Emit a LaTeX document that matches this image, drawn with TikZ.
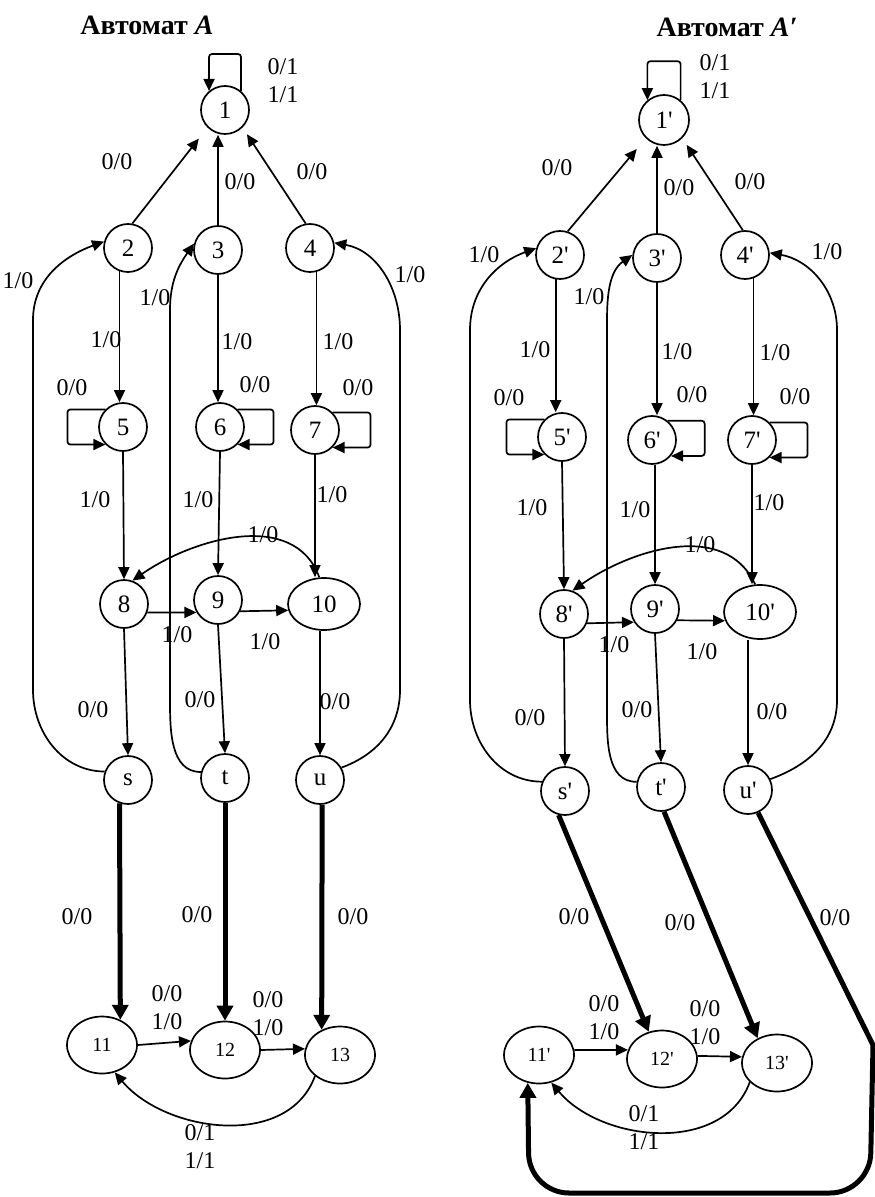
\documentclass[tikz,border=0pt]{standalone}
\usepackage{fontspec}
\setmainfont{Liberation Serif}
\usetikzlibrary{arrows.meta,shapes.geometric}
\newcommand{\prm}{\textquotesingle}

\begin{document}
\begin{tikzpicture}[x=0.5pt,y=0.5pt,
  state/.style={circle,draw,line width=0.85pt,minimum size=24pt,inner sep=0pt,font=\fontsize{12.5}{14}\selectfont},
  oval/.style={ellipse,draw,line width=0.85pt,minimum width=35pt,minimum height=28.5pt,inner sep=0pt,font=\fontsize{10}{11}\selectfont},
  lbl/.style={align=center,inner sep=0pt,font=\fontsize{12}{14}\selectfont},
  ttl/.style={inner sep=0pt,font=\fontsize{14}{16}\selectfont\bfseries},
  arr/.style={line width=0.85pt,-{Triangle[length=6pt,width=5.5pt]}},
  thickarr/.style={line width=2.5pt,-{Triangle[length=7.5pt,width=8pt]}},
  loopy/.style={arr,rounded corners=1.5pt}]
\useasboundingbox (0,0) rectangle (874,-1197);

\node[ttl] (tA) at (147,-25) {Автомат \textit{A}};
\node[state] (1) at (225,-110) {1};
\node[state] (2) at (128,-248) {2};
\node[state] (3) at (218,-250) {3};
\node[state] (4) at (310,-248) {4};
\node[state] (5) at (123,-427) {5};
\node[state] (6) at (220,-427) {6};
\node[state] (7) at (315,-430) {7};
\node[state] (8) at (124,-604) {8};
\node[state] (9) at (218,-600) {9};
\node[oval,minimum width=36pt,minimum height=26pt,font=\fontsize{12.5}{14}\selectfont] (10) at (324,-604) {10};
\node[state] (s) at (128,-780) {s};
\node[state] (t) at (225,-778) {t};
\node[state] (u) at (320,-780) {u};
\node[oval] (11) at (102,-1045) {11};
\node[oval] (12) at (225,-1050) {12};
\node[oval] (13) at (340,-1055) {13};

\draw[loopy] (1.50) -- ++(0,37) -| (1.130);
\draw[arr,shorten >=7pt] (2.80) -- (1.-135);
\draw[arr] (3.north) -- (3.north |- 1.south);
\draw[arr,shorten >=4pt] (4.100) -- (1.-45);
\draw[arr] (s.160) to[out=180,in=-90] (33,-690) -- (33,-320) to[out=90,in=200] (2.165);
\draw[arr] (t.166) to[out=180,in=-90] (170,-700) -- (170,-310) to[out=90,in=235] (3.165);
\draw[arr] (u.30) to[out=20,in=-90] (400,-690) -- (400,-330) to[out=90,in=-10] (4.12);
\draw[arr] (2.-110) -- (2.-110 |- 5.north);
\draw[arr] (3.south) -- (3.south |- 6.north);
\draw[arr] (4.-75) -- (4.-75 |- 7.north);
\draw[loopy] (5.135) -- ++(-38,0) |- (5.-135);
\draw[loopy] (6.45) -- ++(36,0) |- (6.-45);
\draw[loopy] (7.45) -- ++(38,0) |- (7.-45);
\draw[arr] (5.south) -- (8.north);
\draw[arr] (6.south) -- (9.north);
\draw[arr] (7.south) -- (7.south |- 10.north);
\draw[arr] (10.100) to[out=110,in=35] (8.70);
\draw[arr] (8.-20) -- (9.-150);
\draw[arr] (9.-27) -- (10.-170);
\draw[arr] (8.south) -- (s.north);
\draw[arr] (9.south) -- (t.north);
\draw[arr] (u.north |- 10.south) -- (u.north);
\draw[thickarr] (s.-110) -- (11.54);
\draw[thickarr] (t.south) -- (12.north);
\draw[thickarr] (u.-85) -- (13.126);
\draw[arr] (11.east) -- (12.165);
\draw[arr] (12.east) -- (13.170);
\draw[arr] (13.-140) to[out=-110,in=-50] (11.-65);

\node[lbl] (a11) at (283,-81) {0/1\\1/1};
\node[lbl] (a21) at (117,-162) {0/0};
\node[lbl] (a31) at (240,-182) {0/0};
\node[lbl] (a41) at (312,-172) {0/0};
\node[lbl] (as2) at (18,-281) {1/0};
\node[lbl] (at3) at (155,-298) {1/0};
\node[lbl] (au4) at (410,-275) {1/0};
\node[lbl] (a25) at (106,-340) {1/0};
\node[lbl] (a36) at (237,-342) {1/0};
\node[lbl] (a47) at (338,-342) {1/0};
\node[lbl] (a55) at (72,-388) {0/0};
\node[lbl] (a66) at (255,-385) {0/0};
\node[lbl] (a77) at (358,-388) {0/0};
\node[lbl] (a58) at (95,-500) {1/0};
\node[lbl] (a69) at (198,-500) {1/0};
\node[lbl] (a710) at (332,-495) {1/0};
\node[lbl] (a108) at (263,-535) {1/0};
\node[lbl] (a89) at (177,-635) {1/0};
\node[lbl] (a910) at (265,-642) {1/0};
\node[lbl] (a8s) at (93,-710) {0/0};
\node[lbl] (a9t) at (200,-700) {0/0};
\node[lbl] (a10u) at (335,-702) {0/0};
\node[lbl] (as11) at (77,-917) {0/0};
\node[lbl] (at12) at (197,-915) {0/0};
\node[lbl] (au13) at (353,-917) {0/0};
\node[lbl] (a1112) at (167,-1008) {0/0\\1/0};
\node[lbl] (a1213) at (268,-1014) {0/0\\1/0};
\node[lbl] (a1311) at (200,-1147) {0/1\\1/1};

\begin{scope}[xshift=218.5pt]
\node[ttl] (tB) at (290,-27) {Автомат \textit{A′}};
\node[state,minimum size=25pt] (1p) at (227,-120) {1\prm};
\node[state] (2p) at (123,-255) {2\prm};
\node[state] (3p) at (220,-258) {3\prm};
\node[state] (4p) at (308,-255) {4\prm};
\node[state] (5p) at (125,-437) {5\prm};
\node[state] (6p) at (215,-440) {6\prm};
\node[state] (7p) at (315,-440) {7\prm};
\node[state] (8p) at (127,-614) {8\prm};
\node[state] (9p) at (218,-609) {9\prm};
\node[oval,minimum width=36pt,minimum height=27pt,font=\fontsize{12.5}{14}\selectfont] (10p) at (323,-612) {10\prm};
\node[state] (sp) at (128,-791) {s\prm};
\node[state] (tp) at (224,-787) {t\prm};
\node[state] (up) at (311,-790) {u\prm};
\node[oval] (11p) at (102,-1055) {11\prm};
\node[oval] (12p) at (225,-1059) {12\prm};
\node[oval] (13p) at (340,-1063) {13\prm};

\draw[loopy] (1p.50) -- ++(0,39) -| (1p.130);
\draw[arr,shorten >=7pt] (2p.72) -- (1p.-135);
\draw[arr] (3p.north) -- (3p.north |- 1p.south);
\draw[arr,shorten >=4pt] (4p.95) -- (1p.-45);
\draw[arr] (sp.158) to[out=180,in=-90] (33,-700) -- (33,-330) to[out=90,in=200] (2p.164);
\draw[arr] (tp.168) to[out=180,in=-90] (170,-710) -- (170,-320) to[out=90,in=215] (3p.173);
\draw[arr] (up.26) to[out=20,in=-90] (400,-700) -- (400,-330) to[out=90,in=-10] (4p.5);
\draw[arr] (2p.-100) -- (2p.-100 |- 5p.north);
\draw[arr] (3p.south) -- (3p.south |- 6p.north);
\draw[arr] (4p.-70) -- (4p.-70 |- 7p.north);
\draw[loopy] (5p.135) -- ++(-38,0) |- (5p.-135);
\draw[loopy] (6p.51) -- ++(37,0) |- (6p.-40);
\draw[loopy] (7p.45) -- ++(38,0) |- (7p.-45);
\draw[arr] (5p.south) -- (8p.north);
\draw[arr] (9p.north |- 6p.south) -- (9p.north);
\draw[arr] (7p.south) -- (7p.south |- 10p.north);
\draw[arr] (10p.100) to[out=115,in=35] (8p.70);
\draw[arr] (8p.-22) -- (9p.-148);
\draw[arr] (9p.-27) -- (10p.-166);
\draw[arr] (8p.south) -- (sp.north);
\draw[arr] (9p.south) -- (tp.north);
\draw[arr] (up.north |- 10p.south) -- (up.north);
\draw[thickarr] (sp.-105) -- (12p.116);
\draw[thickarr] (tp.-83) -- (13p.128);
\draw[thickarr] (up.-66) -- (436,-1045) [rounded corners=20pt] -- (433,-1193) -- (92,-1193) -- (11p.-112);
\draw[arr] (11p.8) -- (12p.165);
\draw[arr] (12p.5) -- (13p.170);
\draw[arr] (13p.-145) to[out=-110,in=-50] (11p.-66);

\node[lbl] (a11p) at (278,-77) {0/1\\1/1};
\node[lbl] (a21p) at (120,-168) {0/0};
\node[lbl] (a31p) at (242,-188) {0/0};
\node[lbl] (a41p) at (313,-182) {0/0};
\node[lbl] (as2p) at (47,-255) {1/0};
\node[lbl] (at3p) at (152,-297) {1/0};
\node[lbl] (au4p) at (390,-252) {1/0};
\node[lbl] (a25p) at (98,-350) {1/0};
\node[lbl] (a36p) at (240,-352) {1/0};
\node[lbl] (a47p) at (338,-353) {1/0};
\node[lbl] (a55p) at (72,-398) {0/0};
\node[lbl] (a66p) at (255,-395) {0/0};
\node[lbl] (a77p) at (358,-397) {0/0};
\node[lbl] (a58p) at (95,-508) {1/0};
\node[lbl] (a69p) at (198,-510) {1/0};
\node[lbl] (a710p) at (332,-503) {1/0};
\node[lbl] (a108p) at (263,-545) {1/0};
\node[lbl] (a89p) at (177,-645) {1/0};
\node[lbl] (a910p) at (265,-652) {1/0};
\node[lbl] (a8sp) at (93,-718) {0/0};
\node[lbl] (a9tp) at (200,-710) {0/0};
\node[lbl] (a10up) at (335,-712) {0/0};
\node[lbl] (as12p) at (137,-917) {0/0};
\node[lbl] (at13p) at (243,-923) {0/0};
\node[lbl] (au11p) at (398,-918) {0/0};
\node[lbl] (a1112p) at (167,-1018) {0/0\\1/0};
\node[lbl] (a1213p) at (268,-1023) {0/0\\1/0};
\node[lbl] (a1311p) at (207,-1128) {0/1\\1/1};
\end{scope}
\end{tikzpicture}
\end{document}
